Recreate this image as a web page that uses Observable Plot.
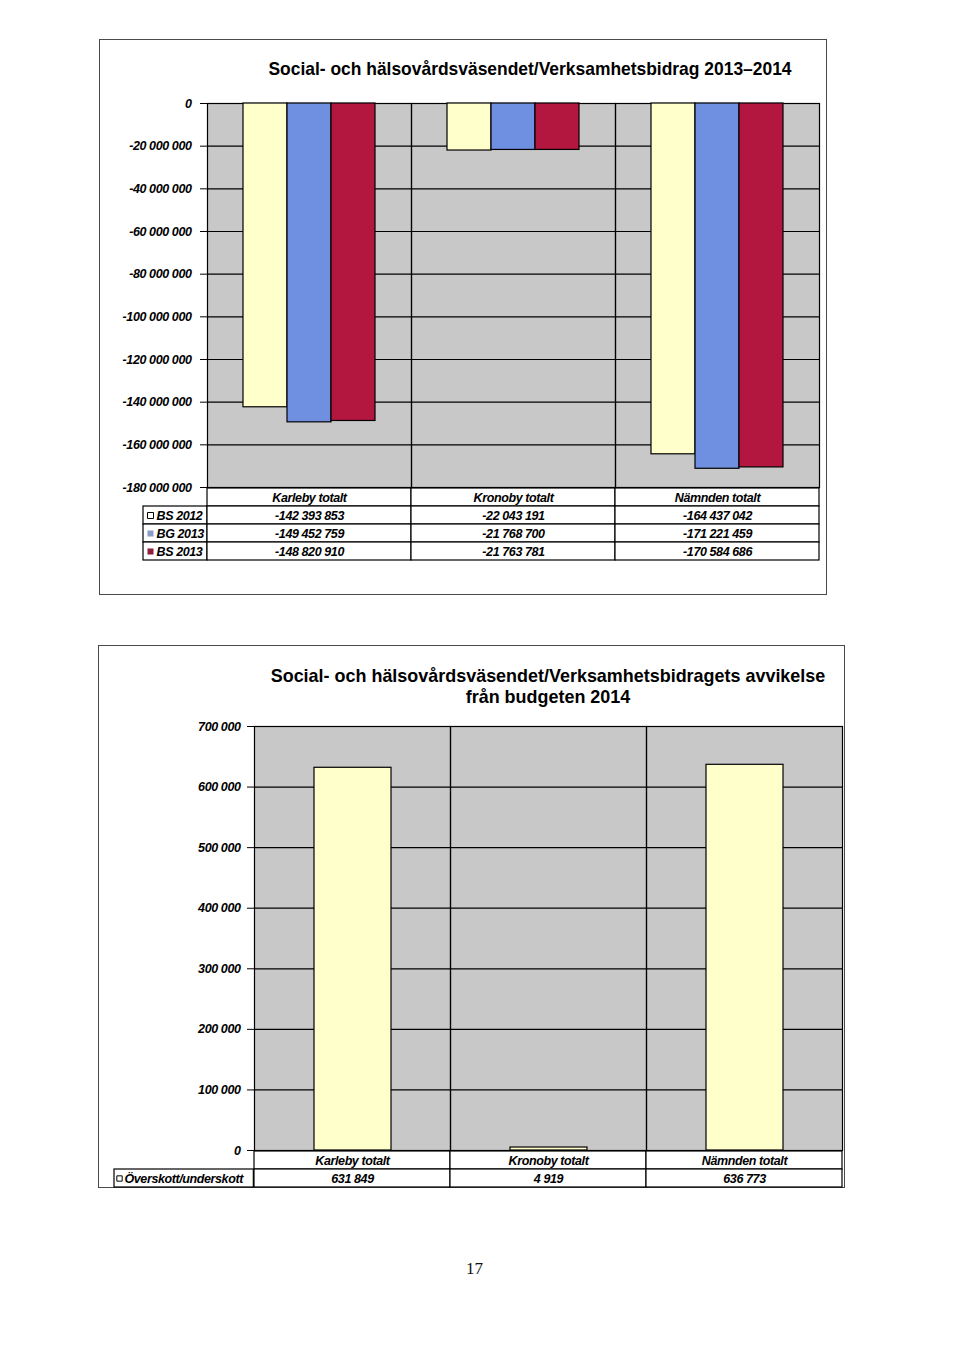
<!DOCTYPE html>
<html>
<head>
<meta charset="utf-8">
<script src="https://cdn.jsdelivr.net/npm/d3@7"></script>
<script src="https://cdn.jsdelivr.net/npm/@observablehq/plot@0.6"></script>
<style>
  html, body { margin: 0; padding: 0; background: #fff; }
  #page { position: relative; width: 960px; height: 1357px; background: #fff; overflow: hidden; }
  .frame { position: absolute; border: 1.5px solid #4a4a4a; box-sizing: border-box; }
  .title { position: absolute; font-family: "Liberation Sans", Arial, sans-serif; font-weight: bold; color: #000; text-align: center; white-space: nowrap; transform-origin: center; }
  .pagenum { position: absolute; font-family: "Liberation Serif", "DejaVu Serif", serif; font-size: 17px; color: #111; }
</style>
</head>
<body>
<div id="page"></div>
<script>
// ---------- data ----------
const categories = ["Karleby totalt", "Kronoby totalt", "Nämnden totalt"];
const series1 = ["BS 2012", "BG 2013", "BS 2013"];
const bs2012 = [-142393853, -22043191, -164437042];
const bg2013 = [-149452759, -21768700, -171221459];
const bs2013 = [-148820910, -21763781, -170584686];
const colors1 = ["#ffffcc", "#6f8fe0", "#b3173f"];
const swatch1 = ["#ffffff", "#8a9cc8", "#8e1c3c"];
const yTicks1 = [0, -20000000, -40000000, -60000000, -80000000, -100000000, -120000000, -140000000, -160000000, -180000000];

const series2 = ["Överskott/underskott"];
const surplus = [631849, 4919, 636773];
const colors2 = ["#ffffcc"];
const yTicks2 = [0, 100000, 200000, 300000, 400000, 500000, 600000, 700000];

const title1 = "Social- och hälsovårdsväsendet/Verksamhetsbidrag 2013–2014";
const title2a = "Social- och hälsovårdsväsendet/Verksamhetsbidragets avvikelse";
const title2b = "från budgeten 2014";

// ---------- helpers ----------
const FONT = '"Liberation Sans", Arial, sans-serif';
const fmt = v => d3.format(",")(v).replace(/,/g, " ").replace("−", "-");
const page = document.getElementById("page");
function place(el, left, top) {
  el.style.position = "absolute";
  el.style.left = left + "px";
  el.style.top = top + "px";
  page.appendChild(el);
}
function div(cls, left, top, w, h, text) {
  const d = document.createElement("div");
  d.className = cls;
  d.style.left = left + "px"; d.style.top = top + "px";
  if (w != null) d.style.width = w + "px";
  if (h != null) d.style.height = h + "px";
  if (text != null) d.textContent = text;
  page.appendChild(d);
  return d;
}
const textStyle = {fontFamily: FONT, fontSize: "12.5px", fontWeight: "bold", fontStyle: "italic", letterSpacing: "-0.4px", color: "#000", background: "transparent", overflow: "visible"};

// ---------- frames & titles ----------
div("frame", 99, 39, 728, 556);
div("frame", 98, 645, 747, 543);

const t1 = div("title", 529.5 - 400, 58, 800, null, title1);
t1.style.fontSize = "18.5px";
t1.style.transform = "scaleX(0.942)";
const t2 = div("title", 548 - 400, 665, 800, null);
t2.style.fontSize = "18.5px"; t2.style.lineHeight = "21px";
t2.style.transform = "scaleX(0.97)";
t2.innerHTML = title2a + "<br>" + title2b;

div("pagenum", 466, 1259, null, null, "17");

// ---------- chart 1 ----------
const data1 = [];
categories.forEach((c, i) => {
  [bs2012, bg2013, bs2013].forEach((arr, j) => data1.push({cat: c, series: series1[j], value: arr[i]}));
});

const p1 = Plot.plot({
  width: 725, height: 405,
  marginLeft: 107, marginRight: 6, marginTop: 13, marginBottom: 8,
  style: textStyle,
  fx: {domain: categories, padding: 0, axis: null},
  x: {domain: series1, paddingInner: 0, paddingOuter: 0.77, axis: null},
  y: {domain: [-180000000, 0], ticks: yTicks1, tickFormat: fmt, tickSize: 7, tickPadding: 9, label: null},
  color: {domain: series1, range: colors1},
  marks: [
    Plot.frame({fill: "#c8c8c8"}),
    Plot.ruleY(yTicks1, {stroke: "#000", strokeWidth: 1.2}),
    Plot.frame({stroke: "#000", strokeWidth: 1.2}),
    Plot.barY(data1, {fx: "cat", x: "series", y: "value", fill: "series", stroke: "#000", strokeWidth: 1.2})
  ]
});
place(p1, 100, 90);

// table 1
const rows1 = ["h", ...series1];
const headerCells1 = categories.map(c => ({cat: c, row: "h"}));
const bw1 = (725 - 107 - 6) / 3;
const t1plot = Plot.plot({
  width: 725, height: 76,
  marginLeft: 107, marginRight: 6, marginTop: 1, marginBottom: 1,
  style: textStyle,
  x: {domain: categories, padding: 0, axis: null},
  y: {domain: rows1, padding: 0, axis: null},
  marks: [
    Plot.cell(series1, {x: () => categories[0], y: d => d, fill: "#fff", stroke: "#000", strokeWidth: 1.2, insetLeft: -64, insetRight: bw1}),
    Plot.cell(headerCells1, {x: "cat", y: "row", fill: "#fff", stroke: "#000", strokeWidth: 1.2}),
    Plot.cell(data1, {x: "cat", y: "series", fill: "#fff", stroke: "#000", strokeWidth: 1.2}),
    Plot.text(categories, {x: d => d, y: () => "h", text: d => d}),
    Plot.text(data1, {x: "cat", y: "series", text: d => fmt(d.value)}),
    Plot.dot(series1, {y: d => d, frameAnchor: "left", dx: -57, symbol: "square", r: 3.4, fill: (d, i) => swatch1[i], stroke: (d, i) => i === 0 ? "#000" : "none", strokeWidth: 1}),
    Plot.text(series1, {y: d => d, frameAnchor: "left", dx: -51, textAnchor: "start", text: d => d})
  ]
});
place(t1plot, 100, 486);

// ---------- chart 2 ----------
const data2 = categories.map((c, i) => ({cat: c, series: series2[0], value: surplus[i]}));

const p2 = Plot.plot({
  width: 745, height: 442,
  marginLeft: 153, marginRight: 2, marginTop: 10, marginBottom: 8,
  style: textStyle,
  fx: {domain: categories, padding: 0, axis: null},
  x: {domain: series2, paddingInner: 0, paddingOuter: 0.763, axis: null},
  y: {domain: [0, 700000], ticks: yTicks2, tickFormat: fmt, tickSize: 7, tickPadding: 7, label: null},
  color: {domain: series2, range: colors2},
  marks: [
    Plot.frame({fill: "#c8c8c8"}),
    Plot.ruleY(yTicks2, {stroke: "#000", strokeWidth: 1.2}),
    Plot.frame({stroke: "#000", strokeWidth: 1.2}),
    Plot.barY(data2, {fx: "cat", x: "series", y: "value", fill: "series", stroke: "#000", strokeWidth: 1.2})
  ]
});
place(p2, 100, 716);

// table 2
const rows2 = ["h", ...series2];
const headerCells2 = categories.map(c => ({cat: c, row: "h"}));
const bw2 = (745 - 153 - 2) / 3;
const t2plot = Plot.plot({
  width: 745, height: 39,
  marginLeft: 153, marginRight: 2, marginTop: 1, marginBottom: 1,
  style: textStyle,
  x: {domain: categories, padding: 0, axis: null},
  y: {domain: rows2, padding: 0, axis: null},
  marks: [
    Plot.cell(series2, {x: () => categories[0], y: d => d, fill: "#fff", stroke: "#000", strokeWidth: 1.2, insetLeft: -140, insetRight: bw2}),
    Plot.cell(headerCells2, {x: "cat", y: "row", fill: "#fff", stroke: "#000", strokeWidth: 1.2}),
    Plot.cell(data2, {x: "cat", y: "series", fill: "#fff", stroke: "#000", strokeWidth: 1.2}),
    Plot.text(categories, {x: d => d, y: () => "h", text: d => d}),
    Plot.text(data2, {x: "cat", y: "series", text: d => fmt(d.value)}),
    Plot.dot(series2, {y: d => d, frameAnchor: "left", dx: -134, symbol: "square", r: 3, fill: "#fff", stroke: "#000", strokeWidth: 1}),
    Plot.text(series2, {y: d => d, frameAnchor: "left", dx: -129, textAnchor: "start", text: d => d})
  ]
});
place(t2plot, 100, 1149);
</script>
</body>
</html>
